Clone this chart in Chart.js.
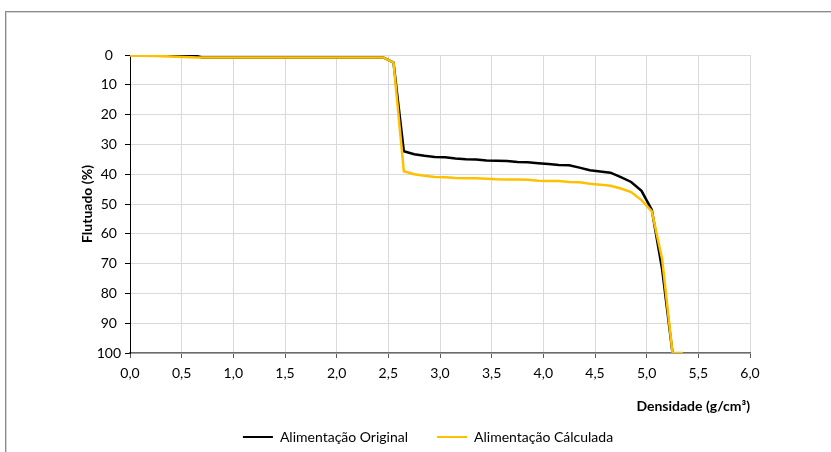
<!DOCTYPE html>
<html>
<head>
<meta charset="utf-8">
<script src="https://cdn.jsdelivr.net/npm/chart.js@4/dist/chart.umd.min.js"></script>
<style>
  html, body { margin: 0; padding: 0; background: #fff; overflow: hidden; }
  #wrap { width: 831px; height: 452px; position: relative; }
</style>
</head>
<body>
<div id="wrap"><canvas id="c" width="831" height="452"></canvas></div>
<script>
// Curva de partição: densidade (g/cm³) x flutuado acumulado (%)
const densOriginal = [0, 0.25, 0.6, 0.7, 2.45, 2.55, 2.65, 2.75, 2.85, 2.95, 3.05, 3.15, 3.25, 3.35,
  3.45, 3.55, 3.65, 3.75, 3.85, 3.95, 4.05, 4.15, 4.25, 4.35, 4.45, 4.55, 4.65, 4.75, 4.85, 4.95,
  5.05, 5.15, 5.25];
const flutOriginal = [0, 0, 0, 0.8, 0.8, 2.5, 32.3, 33.3, 33.8, 34.2, 34.3, 34.7, 35.0, 35.1,
  35.4, 35.5, 35.6, 35.9, 36.0, 36.3, 36.6, 36.9, 37.0, 37.8, 38.7, 39.1, 39.5, 41.0, 42.6, 45.6,
  52.0, 72.0, 100];

const densCalculada = [0, 0.25, 0.65, 2.45, 2.55, 2.65, 2.75, 2.85, 2.95, 3.05, 3.15, 3.25, 3.35,
  3.45, 3.55, 3.65, 3.75, 3.85, 3.95, 4.05, 4.15, 4.25, 4.35, 4.45, 4.55, 4.65, 4.75, 4.85, 4.95,
  5.05, 5.15, 5.25, 5.35];
const flutCalculada = [0.2, 0.3, 0.8, 0.8, 2.5, 39.0, 40.0, 40.5, 40.9, 41.0, 41.3, 41.4, 41.4,
  41.5, 41.7, 41.8, 41.8, 41.9, 42.2, 42.3, 42.3, 42.6, 42.7, 43.2, 43.5, 43.9, 44.8, 46.0, 48.7,
  52.5, 68.5, 100, 100];

const seriesNames = ['Alimentação Original', 'Alimentação Cálculada'];
const axisTitles = { x: 'Densidade (g/cm³)', y: 'Flutuado (%)' };

const pairs = (xs, ys) => xs.map((x, i) => ({ x: x, y: ys[i] }));

Chart.defaults.font.family = 'Lato, "Liberation Sans", sans-serif';
Chart.defaults.font.size = 14;
Chart.defaults.color = '#000';

// moldura cinza da área do gráfico
const frame = {
  id: 'frame',
  beforeDraw(chart) {
    const ctx = chart.ctx;
    ctx.save();
    ctx.strokeStyle = '#d4d4d4';
    ctx.lineWidth = 1;
    ctx.strokeRect(6.5, 12.5, 900, 600);
    ctx.strokeStyle = '#8a8a8a';
    ctx.strokeRect(5.5, 11.5, 900, 600);
    ctx.restore();
  }
};

new Chart(document.getElementById('c'), {
  type: 'line',
  data: {
    datasets: [
      {
        label: seriesNames[0],
        data: pairs(densOriginal, flutOriginal),
        borderColor: '#000000',
        backgroundColor: '#000000',
        borderWidth: 2.5,
        pointRadius: 0,
        tension: 0,
        order: 1
      },
      {
        label: seriesNames[1],
        data: pairs(densCalculada, flutCalculada),
        borderColor: '#FFC000',
        backgroundColor: '#FFC000',
        borderWidth: 2.5,
        pointRadius: 0,
        tension: 0,
        order: 0
      }
    ]
  },
  options: {
    responsive: false,
    animation: false,
    layout: { padding: { left: 80, right: 55, top: 55, bottom: 0 } },
    plugins: {
      tooltip: { enabled: false },
      legend: {
        position: 'bottom',
        maxHeight: 51,
        labels: {
          boxWidth: 30,
          boxHeight: 2,
          padding: 29,
          color: '#000',
          font: { size: 14 },
          sort: (a, b) => a.datasetIndex - b.datasetIndex,
          generateLabels(chart) {
            return Chart.defaults.plugins.legend.labels.generateLabels(chart)
              .map(item => Object.assign(item, { lineWidth: 0, fillStyle: item.strokeStyle }));
          }
        }
      }
    },
    scales: {
      x: {
        type: 'linear',
        min: 0,
        max: 6,
        ticks: {
          stepSize: 0.5,
          padding: 7,
          color: '#000',
          callback: v => v.toFixed(1).replace('.', ',')
        },
        grid: { color: '#d9d9d9', tickColor: '#595959', tickLength: 5 },
        border: { color: '#6b6b6b', width: 1.5 },
        title: {
          display: true,
          text: axisTitles.x,
          align: 'end',
          color: '#000',
          font: { size: 14, weight: 'bold' },
          padding: { top: 0, bottom: -13.4 }
        },
        afterFit(s) { s.height = 48; s.paddingRight = 81; }
      },
      y: {
        type: 'linear',
        min: 0,
        max: 100,
        reverse: true,
        ticks: { stepSize: 10, crossAlign: 'center', padding: 4, color: '#000' },
        grid: { color: '#d9d9d9', tickColor: '#000', tickLength: 5 },
        border: { color: '#000', width: 1 },
        title: {
          display: true,
          text: axisTitles.y,
          color: '#000',
          font: { size: 14, weight: 'bold' },
          padding: { top: -0.5, bottom: 0 }
        },
        afterFit(s) { s.width = 50; s.paddingTop = 0; s.paddingBottom = 0; }
      }
    }
  },
  plugins: [frame]
});
</script>
</body>
</html>
